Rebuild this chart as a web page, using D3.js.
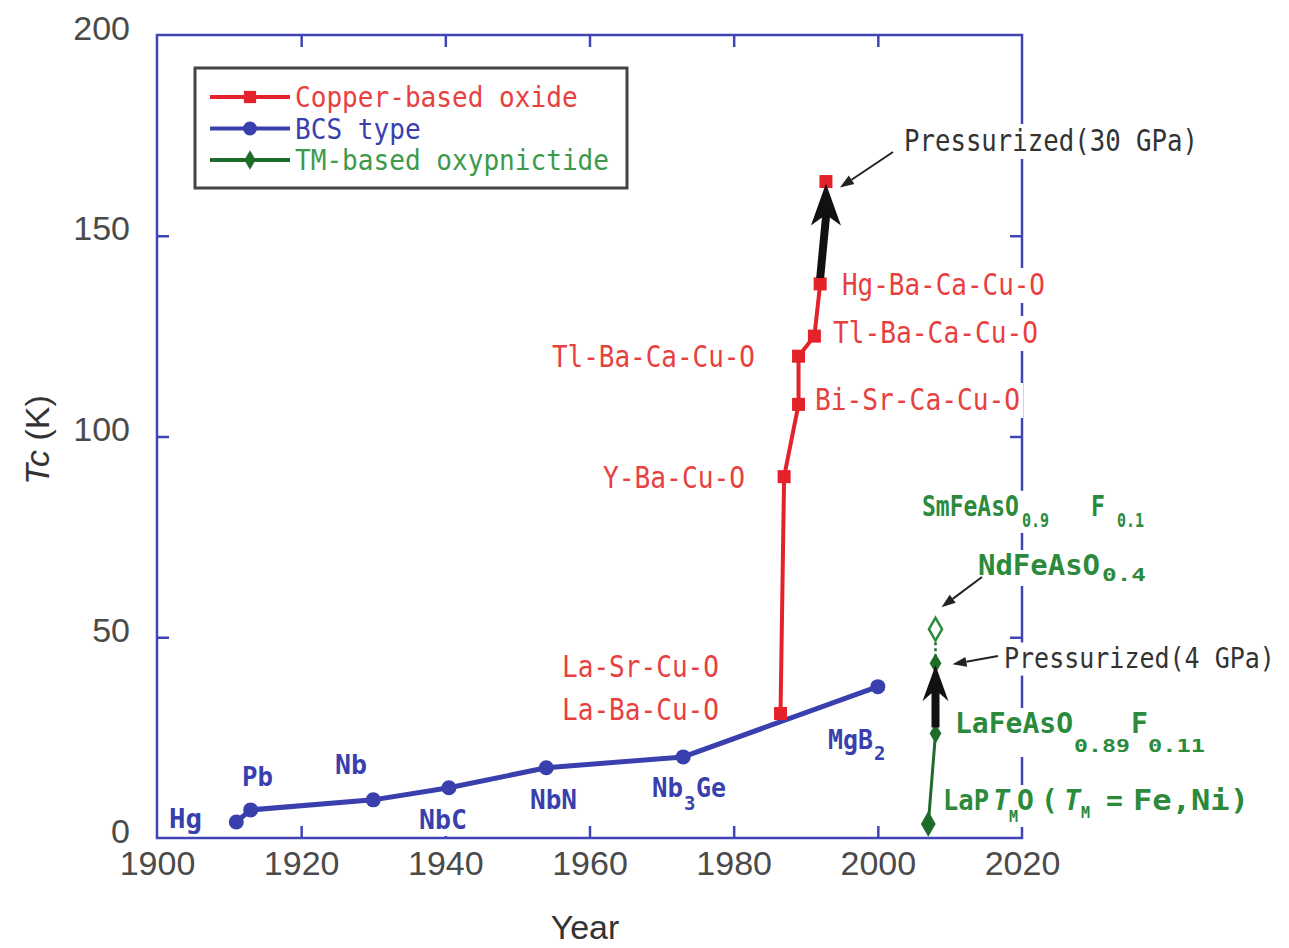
<!DOCTYPE html>
<html>
<head>
<meta charset="utf-8">
<script src="https://cdn.jsdelivr.net/npm/d3@7"></script>
<style>
  html, body { margin: 0; padding: 0; background: #fff; }
  svg { display: block; }
</style>
</head>
<body>
<svg id="chart" width="1289" height="948"></svg>
<script>
// ---- data -------------------------------------------------------------
// BCS-type superconductors
const bcsNames = ["Hg", "Pb", "Nb", "NbC", "NbN", "Nb3Ge", "MgB2"];
const bcsYear  = [1911, 1913, 1930, 1940.5, 1954, 1973, 2000];
const bcsTc    = [4, 7, 9.5, 12.5, 17.5, 20.2, 37.7];

// copper-based oxides
const cuNames = ["La-Ba-Cu-O", "Y-Ba-Cu-O", "Bi-Sr-Ca-Cu-O", "Tl-Ba-Ca-Cu-O", "Tl-Ba-Ca-Cu-O", "Hg-Ba-Ca-Cu-O"];
const cuYear  = [1986.5, 1987, 1989, 1989, 1991.2, 1992];
const cuTc    = [31, 90, 108, 120, 125, 138];
const cuPressYear = [1992.8];   // Hg-Ba-Ca-Cu-O under 30 GPa
const cuPressTc   = [163.5];

// transition-metal based oxypnictides
const pnNames = ["LaPTMO", "LaFeAsO0.89F0.11", "LaFeAsO0.89F0.11 (4 GPa)"];
const pnYear  = [2007, 2008, 2008];
const pnTc    = [3.5, 26, 43.5];
const pnOpenYear = [2008];      // NdFeAsO0.4 / SmFeAsO0.9F0.1
const pnOpenTc   = [52];

// axes
const xTicks = [1900, 1920, 1940, 1960, 1980, 2000, 2020];
const yTicks = [0, 50, 100, 150, 200];

// ---- layout -----------------------------------------------------------
const svg = d3.select("#chart");
const L = 157, R = 1022, T = 35, B = 838;
const x = d3.scaleLinear().domain([1900, 2020]).range([L, R]);
const y = d3.scaleLinear().domain([0, 200]).range([B, T]);

const C = {
  frame: "#4044b4", blue: "#3a3fae", red: "#e4222a", redText: "#e8403f",
  green: "#1e6b2a", greenText: "#2b8a3b", legendGreen: "#3d9a4c", gray: "#4a4a4a", dark: "#333"
};
const MONO = "'DejaVu Sans Mono', 'Liberation Mono', monospace";
const SANS = "'Liberation Sans', Arial, sans-serif";

const gFrame = svg.append("g");
const gLabels = svg.append("g");
const gData = svg.append("g");
const gLegend = svg.append("g");

// ---- frame with inward ticks -----------------------------------------
gFrame.append("rect").attr("x", L).attr("y", T).attr("width", R - L).attr("height", B - T)
  .attr("fill", "none").attr("stroke", C.frame).attr("stroke-width", 2.5);

const tickLen = 12;
const axB = d3.axisBottom(x).tickValues(xTicks).tickSizeInner(-tickLen).tickSizeOuter(0).tickFormat(d3.format("d"));
const axT = d3.axisTop(x).tickValues(xTicks).tickSizeInner(-tickLen).tickSizeOuter(0).tickFormat("");
const axL = d3.axisLeft(y).tickValues(yTicks).tickSizeInner(-tickLen).tickSizeOuter(0);
const axR = d3.axisRight(y).tickValues(yTicks).tickSizeInner(-tickLen).tickSizeOuter(0).tickFormat("");

function styleAxis(g) {
  g.select(".domain").remove();
  g.selectAll(".tick line").attr("stroke", C.frame).attr("stroke-width", 2.5);
  g.selectAll(".tick text").attr("fill", C.gray).attr("font-family", SANS).attr("font-size", 34);
}
gFrame.append("g").attr("transform", `translate(0,${B})`).call(axB).call(styleAxis)
  .selectAll(".tick text").attr("dy", null).attr("y", 37);
gFrame.append("g").attr("transform", `translate(0,${T})`).call(axT).call(styleAxis);
gFrame.append("g").attr("transform", `translate(${L},0)`).call(axL).call(styleAxis)
  .selectAll(".tick text").attr("x", -27).attr("dy", null).attr("y", 4);
gFrame.append("g").attr("transform", `translate(${R},0)`).call(axR).call(styleAxis);
// end ticks at the domain limits are not drawn
gFrame.selectAll(".tick").filter(d => d === 1900 || d === 2020 || d === 0 || d === 200)
  .select("line").remove();

// axis titles
gFrame.append("text").attr("x", 585).attr("y", 939).attr("text-anchor", "middle")
  .attr("font-family", SANS).attr("font-size", 34).attr("fill", C.dark).text("Year");
const yt = gFrame.append("text").attr("transform", "translate(49,440) rotate(-90)")
  .attr("text-anchor", "middle").attr("font-family", SANS).attr("font-size", 34).attr("fill", C.dark);
yt.append("tspan").attr("font-style", "italic").text("Tc");
yt.append("tspan").text(" (K)");

// ---- labels (white boxes behind text) ---------------------------------
// opts.sy stretches the label vertically about its first baseline
function label(parts, opts) {
  const g = gLabels.append("g");
  if (opts.sy) {
    const by = parts[0].y;
    g.attr("transform", `translate(0,${by}) scale(1,${opts.sy}) translate(0,${-by})`);
  }
  const t = g.append("text").attr("font-family", MONO).attr("fill", opts.fill)
    .attr("font-weight", opts.weight || "normal").attr("font-size", opts.size || 26)
    .attr("text-anchor", opts.anchor || "start");
  parts.forEach(p => {
    const ts = t.append("tspan").attr("x", p.x).attr("y", p.y).text(p.t);
    if (p.size) ts.attr("font-size", p.size);
    if (p.italic) ts.attr("font-style", "italic");
    if (p.len) ts.attr("textLength", p.len).attr("lengthAdjust", "spacingAndGlyphs");
  });
  const bb = t.node().getBBox();
  g.insert("rect", "text").attr("x", bb.x - 3).attr("y", bb.y + 1)
    .attr("width", bb.width + 6).attr("height", bb.height).attr("fill", "#fff");
  return t;
}
const redL = (s, x0, yb, anchor, len) =>
  label([{ t: s, x: x0, y: yb, len }], { fill: C.redText, anchor, size: 30 });

redL(cuNames[5], 842, 295, "start", 203);
redL(cuNames[4], 833, 343, "start", 205);
redL(cuNames[2], 815, 410, "start", 205);
redL(cuNames[3], 755, 367, "end", 203);
redL(cuNames[1], 745, 488, "end", 142);
redL("La-Sr-Cu-O", 719, 677, "end", 157);
redL(cuNames[0], 719, 720, "end", 157);

// annotations
label([{ t: "Pressurized(30 GPa)", x: 904, y: 151, len: 294 }], { fill: C.dark, size: 30 });
label([{ t: "Pressurized(4 GPa)", x: 1004, y: 668 }], { fill: C.dark, size: 25, sy: 1.15 });

// BCS labels
const blueL = (parts) => label(parts, { fill: C.blue, weight: "bold", size: 26 });
blueL([{ t: bcsNames[0], x: 169, y: 828, len: 33 }]);
blueL([{ t: bcsNames[1], x: 242, y: 786, len: 31 }]);
blueL([{ t: bcsNames[2], x: 335, y: 774, len: 32 }]);
blueL([{ t: bcsNames[3], x: 419, y: 829, len: 48 }]);
blueL([{ t: bcsNames[4], x: 530, y: 809, len: 47 }]);
blueL([{ t: "Nb", x: 652, y: 797, len: 31 }, { t: "3", x: 684, y: 810, size: 19 }, { t: "Ge", x: 696, y: 797, len: 30 }]);
blueL([{ t: "MgB", x: 828, y: 749, len: 45 }, { t: "2", x: 874, y: 760, size: 19 }]);

// oxypnictide labels
const greenL = (parts, sy) => label(parts, { fill: C.greenText, weight: "bold", size: 28, sy });
greenL([{ t: "SmFeAsO", x: 922, y: 516, size: 23 },
        { t: "0.9", x: 1022, y: 525, size: 15 },
        { t: "F", x: 1091, y: 516, size: 23 },
        { t: "0.1", x: 1117, y: 525, size: 15 }], 1.25);
greenL([{ t: "NdFeAsO", x: 978, y: 575, len: 122 },
        { t: "0.4", x: 1102, y: 581, size: 17, len: 44 }]);
greenL([{ t: "LaFeAsO", x: 955, y: 733, len: 118 },
        { t: "0.89", x: 1074, y: 752, size: 17, len: 56 },
        { t: "F", x: 1131, y: 733 },
        { t: "0.11", x: 1148, y: 752, size: 17, len: 57 }]);
greenL([{ t: "LaP", x: 943, y: 810, len: 46 },
        { t: "T", x: 993, y: 810, italic: true },
        { t: "M", x: 1009, y: 822, size: 15 },
        { t: "O", x: 1017, y: 810 },
        { t: "(", x: 1041, y: 810 },
        { t: "T", x: 1064, y: 810, italic: true },
        { t: "M", x: 1081, y: 818, size: 15 },
        { t: "=", x: 1106, y: 810 },
        { t: "Fe,Ni)", x: 1133, y: 810, len: 116 }]);

// ---- data marks --------------------------------------------------------
const line = d3.line().x(d => x(d[0])).y(d => y(d[1]));
const bcs = bcsYear.map((v, i) => [v, bcsTc[i]]);
const cu = cuYear.map((v, i) => [v, cuTc[i]]);
const pn = pnYear.map((v, i) => [v, pnTc[i]]);
const pnOpen = pnOpenYear.map((v, i) => [v, pnOpenTc[i]]);
const cuPress = cuPressYear.map((v, i) => [v, cuPressTc[i]]);

// blue series
gData.append("path").attr("d", line(bcs)).attr("fill", "none")
  .attr("stroke", C.blue).attr("stroke-width", 5).attr("stroke-linejoin", "round");
gData.selectAll(".bcs").data(bcs).join("circle")
  .attr("cx", d => x(d[0])).attr("cy", d => y(d[1])).attr("r", 7.5).attr("fill", C.blue);

// green series: solid to the pressurized point, dotted to the open point
gData.append("path").attr("d", line(pn)).attr("fill", "none")
  .attr("stroke", C.green).attr("stroke-width", 3);
gData.append("path").attr("d", line([pn[pn.length - 1], pnOpen[0]])).attr("fill", "none")
  .attr("stroke", C.green).attr("stroke-width", 2.5).attr("stroke-dasharray", "3,3");
const diamond = d3.symbol().type(d3.symbolDiamond).size(150);
gData.selectAll(".pn").data(pn).join("path")
  .attr("transform", d => `translate(${x(d[0])},${y(d[1])})`)
  .attr("d", (d, i) => d3.symbol().type(d3.symbolDiamond).size(i === 0 ? 190 : 120)())
  .attr("fill", C.green);
gData.selectAll(".pno").data(pnOpen).join("path")
  .attr("transform", d => `translate(${x(d[0])},${y(d[1])})`)
  .attr("d", diamond()).attr("fill", "#fff").attr("stroke", C.greenText).attr("stroke-width", 2.5);

// red series
gData.append("path").attr("d", line(cu)).attr("fill", "none")
  .attr("stroke", C.red).attr("stroke-width", 4).attr("stroke-linejoin", "round");
const sq = 13;
gData.selectAll(".cu").data(cu.concat(cuPress)).join("rect")
  .attr("x", d => x(d[0]) - sq / 2).attr("y", d => y(d[1]) - sq / 2)
  .attr("width", sq).attr("height", sq).attr("fill", C.red);

// thick black arrows for the pressure effect
function bigArrow(from, to, headW, headH) {
  const x0 = x(from[0]), y0 = y(from[1]) - 6, x1 = x(to[0]), y1 = y(to[1]) + 2;
  const sw = 8, notch = 8;
  const p = d3.path();
  p.moveTo(x0 - sw / 2, y0);
  p.lineTo(x1 - sw / 2, y1 + headH - notch);
  p.lineTo(x1 - headW / 2, y1 + headH);
  p.lineTo(x1, y1);
  p.lineTo(x1 + headW / 2, y1 + headH);
  p.lineTo(x1 + sw / 2, y1 + headH - notch);
  p.lineTo(x0 + sw / 2, y0);
  p.closePath();
  gData.append("path").attr("d", p.toString()).attr("fill", "#111");
}
bigArrow(cu[cu.length - 1], cuPress[0], 30, 42);
bigArrow(pn[1], pn[2], 26, 36);

// thin pointer arrows
function pointer(x0, y0, x1, y1) {
  const a = Math.atan2(y1 - y0, x1 - x0), len = 14, w = 5;
  const bx = x1 - len * Math.cos(a), by = y1 - len * Math.sin(a);
  gData.append("line").attr("x1", x0).attr("y1", y0).attr("x2", bx).attr("y2", by)
    .attr("stroke", "#222").attr("stroke-width", 2);
  gData.append("path").attr("fill", "#222").attr("d",
    `M${x1},${y1}L${bx + w * Math.sin(a)},${by - w * Math.cos(a)}L${bx - w * Math.sin(a)},${by + w * Math.cos(a)}Z`);
}
pointer(893, 152, x(cuPress[0][0]) + 14, y(cuPress[0][1]) + 6);
pointer(998, 656, x(pn[2][0]) + 17, y(pn[2][1]) + 1);
pointer(982, 577, x(pnOpen[0][0]) + 6, y(pnOpen[0][1]) - 22);

// ---- legend ------------------------------------------------------------
gLegend.append("rect").attr("x", 195).attr("y", 68).attr("width", 432).attr("height", 120)
  .attr("fill", "#fff").attr("stroke", "#444").attr("stroke-width", 3);
const legendItems = [
  { name: "Copper-based oxide", line: C.red, text: C.redText, mark: "square" },
  { name: "BCS type", line: C.blue, text: C.blue, mark: "circle" },
  { name: "TM-based oxypnictide", line: C.green, text: C.legendGreen, mark: "diamond" }
];
legendItems.forEach((it, i) => {
  const ly = 97 + i * 31.5;
  gLegend.append("line").attr("x1", 210).attr("x2", 290).attr("y1", ly).attr("y2", ly)
    .attr("stroke", it.line).attr("stroke-width", 4);
  const shape = it.mark === "square" ? d3.symbolSquare : it.mark === "circle" ? d3.symbolCircle : d3.symbolDiamond;
  gLegend.append("path").attr("transform", `translate(250,${ly})`)
    .attr("d", d3.symbol().type(shape).size(it.mark === "diamond" ? 110 : 150)()).attr("fill", it.line);
  gLegend.append("text").attr("x", 295).attr("y", ly + 10)
    .attr("font-family", MONO).attr("font-size", 28).attr("fill", it.text)
    .attr("textLength", it.name.length * 15.7).attr("lengthAdjust", "spacingAndGlyphs")
    .text(it.name);
});
</script>
</body>
</html>
